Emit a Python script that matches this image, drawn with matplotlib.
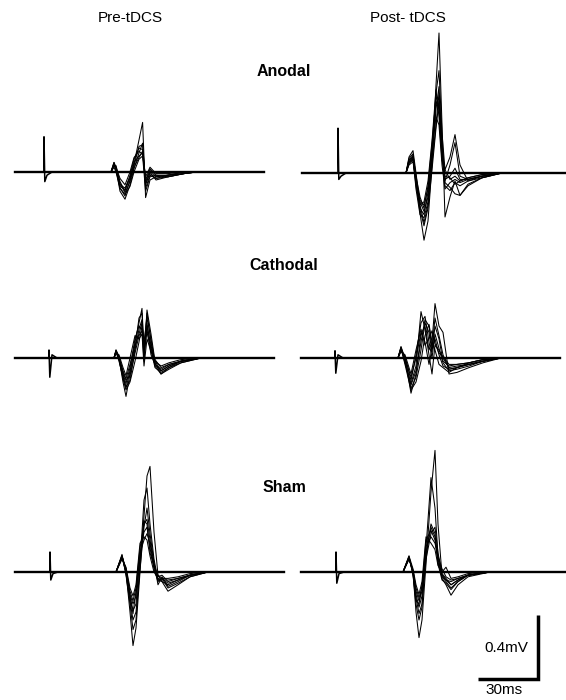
import matplotlib
matplotlib.use("Agg")
import matplotlib.pyplot as plt

plt.rcParams['font.family'] = ['Liberation Sans', 'DejaVu Sans']

# ---- data (time in ms after the stimulus, amplitude in mV) ----
col_titles = ["Pre-tDCS", "Post- tDCS"]
row_titles = ["Anodal", "Cathodal", "Sham"]

# whole sweep: baseline + stimulus artifact
art_t = [0.0, 0.0, 0.4, 1.5, 4.0]
anodal_pre_sweep = [-14.5, 110.0]
anodal_pre_art = [0.0, 0.22, -0.06, -0.02, 0.0]
anodal_post_sweep = [-18.0, 113.5]
anodal_post_art = [0.0, 0.28, -0.04, -0.02, 0.0]
cathodal_pre_sweep = [-17.0, 112.5]
cathodal_pre_art = [0.0, 0.05, -0.12, 0.02, 0.0]
cathodal_post_sweep = [-17.0, 112.5]
cathodal_post_art = [0.0, 0.045, -0.095, 0.02, 0.0]
sham_pre_sweep = [-17.5, 117.0]
sham_pre_art = [0.0, 0.125, -0.05, -0.01, 0.0]
sham_post_sweep = [-17.5, 115.0]
sham_post_art = [0.0, 0.125, -0.07, -0.01, 0.0]

# MEP responses, one list per sweep
anodal_pre_t = [33.5, 35.0, 36.0, 38.0, 40.5, 43.0, 45.0, 47.5, 49.3, 50.8, 53.0, 56.0, 62.0, 70.0, 76.0]
anodal_pre_mep = [
    [0, 0.06, 0.03, -0.10, -0.15, -0.05, 0.05, 0.20, 0.31, -0.16, -0.05, -0.03, -0.02, -0.01, 0],
    [0, 0.05, 0.02, -0.12, -0.17, -0.08, 0.02, 0.12, 0.18, -0.10, -0.02, -0.04, -0.03, -0.01, 0],
    [0, 0.04, 0.04, -0.06, -0.12, -0.02, 0.08, 0.15, 0.14, -0.05, 0.02, -0.02, -0.02, 0, 0],
    [0, 0.06, 0.01, -0.08, -0.10, -0.03, 0.06, 0.10, 0.12, -0.08, 0.00, -0.05, -0.03, -0.01, 0],
    [0, 0.03, 0.00, -0.10, -0.14, -0.09, 0.00, 0.08, 0.10, -0.12, -0.03, -0.02, -0.03, -0.01, 0],
    [0, 0.05, 0.03, -0.04, -0.08, 0.00, 0.09, 0.13, 0.11, -0.03, 0.03, -0.01, -0.01, 0, 0],
    [0, 0.04, 0.02, -0.09, -0.11, -0.04, 0.04, 0.16, 0.17, -0.06, 0.01, -0.03, -0.02, -0.01, 0],
    [0, 0.05, 0.02, -0.07, -0.13, -0.06, 0.03, 0.09, 0.13, -0.07, -0.01, -0.04, -0.02, 0, 0],
]

anodal_post_t = [34.0, 35.5, 37.5, 39.0, 41.0, 43.0, 45.0, 47.0, 49.0, 50.5, 52.0, 53.5, 56.0, 58.5, 61.0, 65.0, 72.0, 82.0]
anodal_post_mep = [
    [0, 0.08, 0.10, -0.05, -0.25, -0.42, -0.30, 0.05, 0.55, 0.875, 0.30, -0.275, -0.15, -0.05, -0.14, -0.08, -0.03, 0],
    [0, 0.10, 0.14, 0.00, -0.20, -0.31, -0.20, 0.10, 0.50, 0.64, 0.25, 0.02, 0.10, 0.24, 0.05, -0.05, -0.03, 0],
    [0, 0.06, 0.08, -0.04, -0.18, -0.24, -0.15, 0.08, 0.40, 0.54, 0.15, -0.05, 0.05, 0.19, -0.02, -0.04, -0.02, 0],
    [0, 0.07, 0.09, -0.08, -0.22, -0.26, -0.12, 0.12, 0.45, 0.40, 0.10, -0.08, -0.11, -0.06, -0.08, -0.05, -0.02, 0],
    [0, 0.05, 0.07, -0.06, -0.17, -0.20, -0.10, 0.15, 0.35, 0.30, 0.05, -0.10, -0.06, -0.04, -0.06, -0.04, -0.02, 0],
    [0, 0.08, 0.11, -0.02, -0.15, -0.22, -0.08, 0.18, 0.48, 0.42, 0.12, -0.02, -0.03, -0.07, -0.05, -0.03, -0.01, 0],
    [0, 0.06, 0.09, -0.10, -0.26, -0.28, -0.18, 0.06, 0.30, 0.50, 0.20, -0.06, -0.09, -0.13, -0.14, -0.07, -0.03, 0],
    [0, 0.09, 0.12, -0.03, -0.20, -0.18, -0.05, 0.20, 0.52, 0.35, 0.08, 0.02, -0.04, -0.02, -0.05, -0.03, -0.01, 0],
    [0, 0.07, 0.10, -0.05, -0.23, -0.33, -0.22, 0.02, 0.28, 0.45, 0.18, -0.04, -0.02, 0.03, -0.04, -0.04, -0.02, 0],
]

cathodal_pre_t = [32.5, 33.5, 35.0, 37.0, 38.5, 40.5, 43.0, 45.0, 46.5, 47.5, 49.0, 51.0, 53.0, 56.0, 60.0, 66.0, 76.0]
cathodal_pre_mep = [
    [0, 0.045, 0.00, -0.15, -0.24, -0.10, 0.10, 0.22, 0.31, 0.05, 0.28, 0.10, -0.05, -0.10, -0.06, -0.03, 0],
    [0, 0.04, -0.02, -0.12, -0.18, -0.14, 0.05, 0.18, 0.24, 0.00, 0.30, 0.15, -0.02, -0.08, -0.05, -0.02, 0],
    [0, 0.03, 0.01, -0.10, -0.16, -0.06, 0.12, 0.20, 0.18, -0.02, 0.22, 0.05, -0.06, -0.09, -0.06, -0.02, 0],
    [0, 0.05, 0.00, -0.08, -0.13, -0.04, 0.08, 0.15, 0.22, 0.08, 0.18, 0.02, -0.04, -0.07, -0.04, -0.02, 0],
    [0, 0.04, -0.01, -0.13, -0.20, -0.15, -0.02, 0.10, 0.20, 0.10, 0.25, 0.12, -0.03, -0.10, -0.07, -0.03, 0],
    [0, 0.03, 0.02, -0.06, -0.11, 0.00, 0.14, 0.12, 0.15, -0.05, 0.12, 0.04, -0.02, -0.05, -0.03, -0.01, 0],
    [0, 0.04, 0.00, -0.11, -0.19, -0.08, 0.06, 0.25, 0.28, 0.02, 0.20, 0.08, -0.04, -0.08, -0.05, -0.02, 0],
    [0, 0.05, 0.01, -0.09, -0.14, -0.11, 0.03, 0.14, 0.17, 0.06, 0.16, 0.06, -0.01, -0.06, -0.04, -0.02, 0],
]

cathodal_post_t = [31.5, 33.0, 35.0, 38.0, 40.5, 43.0, 45.0, 47.0, 48.5, 50.0, 52.0, 54.0, 57.0, 61.0, 67.0, 74.0, 83.0]
cathodal_post_mep = [
    [0, 0.07, 0.00, -0.22, -0.10, 0.15, 0.20, 0.05, 0.10, 0.34, 0.20, 0.16, -0.10, -0.09, -0.06, -0.03, 0],
    [0, 0.06, -0.03, -0.16, -0.05, 0.29, 0.18, 0.02, -0.10, 0.08, 0.05, 0.00, -0.06, -0.05, -0.04, -0.02, 0],
    [0, 0.05, 0.01, -0.14, 0.02, 0.22, 0.26, 0.10, 0.00, 0.15, 0.06, -0.03, -0.08, -0.07, -0.05, -0.02, 0],
    [0, 0.07, -0.02, -0.19, -0.12, 0.05, 0.22, 0.16, 0.04, 0.20, 0.12, -0.02, -0.05, -0.04, -0.03, -0.01, 0],
    [0, 0.05, 0.00, -0.12, 0.00, 0.16, 0.10, -0.04, 0.06, 0.12, 0.02, -0.05, -0.07, -0.06, -0.04, -0.02, 0],
    [0, 0.06, -0.04, -0.20, -0.15, -0.02, 0.14, 0.21, 0.10, 0.05, -0.04, -0.06, -0.09, -0.06, -0.03, -0.01, 0],
    [0, 0.04, 0.02, -0.10, 0.05, 0.18, 0.08, 0.12, 0.17, 0.09, 0.03, 0.01, -0.04, -0.04, -0.03, -0.01, 0],
    [0, 0.06, -0.01, -0.17, -0.08, 0.10, 0.24, 0.20, 0.06, 0.25, 0.14, 0.02, -0.07, -0.06, -0.04, -0.02, 0],
]

sham_pre_t = [33.0, 36.0, 38.0, 40.0, 41.5, 43.0, 45.0, 47.0, 48.5, 50.0, 52.0, 54.0, 56.0, 59.0, 64.0, 70.0, 79.0]
sham_pre_mep = [
    [0, 0.10, 0.00, -0.25, -0.46, -0.35, 0.00, 0.35, 0.60, 0.66, 0.25, -0.02, -0.06, -0.12, -0.08, -0.03, 0],
    [0, 0.11, -0.02, -0.20, -0.36, -0.30, 0.05, 0.45, 0.525, 0.30, 0.08, -0.05, -0.04, -0.10, -0.07, -0.03, 0],
    [0, 0.09, 0.02, -0.12, -0.18, -0.10, 0.15, 0.30, 0.33, 0.20, 0.05, -0.03, -0.02, -0.06, -0.04, -0.02, 0],
    [0, 0.10, 0.01, -0.15, -0.24, -0.20, 0.10, 0.25, 0.28, 0.15, 0.02, -0.06, -0.04, -0.07, -0.05, -0.02, 0],
    [0, 0.08, 0.03, -0.10, -0.15, -0.08, 0.18, 0.22, 0.20, 0.10, 0.00, -0.04, -0.05, -0.05, -0.04, -0.02, 0],
    [0, 0.10, -0.01, -0.18, -0.30, -0.25, 0.02, 0.28, 0.40, 0.24, 0.06, -0.08, -0.03, -0.09, -0.06, -0.02, 0],
    [0, 0.09, 0.00, -0.14, -0.20, -0.15, 0.12, 0.20, 0.24, 0.18, 0.03, -0.02, -0.04, -0.04, -0.03, -0.01, 0],
    [0, 0.10, 0.02, -0.16, -0.26, -0.12, 0.08, 0.32, 0.30, 0.12, 0.04, -0.05, -0.06, -0.08, -0.05, -0.02, 0],
]

sham_post_t = [33.5, 36.5, 38.5, 40.0, 41.5, 43.0, 45.0, 47.5, 49.5, 51.0, 53.0, 55.0, 57.5, 61.0, 66.0, 77.0]
sham_post_mep = [
    [0, 0.09, 0.00, -0.25, -0.41, -0.30, 0.05, 0.50, 0.76, 0.30, -0.02, -0.05, -0.08, -0.05, -0.02, 0],
    [0, 0.10, -0.02, -0.20, -0.30, -0.22, 0.15, 0.59, 0.40, 0.10, -0.04, -0.08, -0.145, -0.08, -0.03, 0],
    [0, 0.08, 0.01, -0.10, -0.16, -0.10, 0.20, 0.26, 0.20, 0.08, -0.02, -0.05, -0.06, -0.04, -0.02, 0],
    [0, 0.09, -0.01, -0.14, -0.22, -0.15, 0.12, 0.30, 0.24, 0.06, -0.03, -0.06, -0.10, -0.06, -0.02, 0],
    [0, 0.10, 0.02, -0.08, -0.14, -0.06, 0.22, 0.18, 0.14, 0.04, 0.00, 0.03, -0.04, -0.03, -0.01, 0],
    [0, 0.09, 0.00, -0.16, -0.26, -0.20, 0.08, 0.24, 0.28, 0.12, -0.01, -0.04, -0.08, -0.05, -0.02, 0],
    [0, 0.08, 0.01, -0.12, -0.18, -0.12, 0.16, 0.22, 0.18, 0.10, 0.02, -0.03, -0.05, -0.04, -0.02, 0],
    [0, 0.09, -0.01, -0.18, -0.20, -0.08, 0.10, 0.28, 0.22, 0.05, -0.05, -0.07, -0.11, -0.06, -0.02, 0],
]

scale_ms = 30
scale_mv = 0.4

# ---- layout (pixels) ----
W, H = 566, 700
PX_PER_MS = 2.0
PX_PER_MV = 160.0
T_LO, T_HI = -20, 120
V_LO, V_HI = -0.8, 1.0

fig = plt.figure(figsize=(W / 100, H / 100), dpi=100)


def panel_axes(stim_px, base_px):
    left = stim_px + T_LO * PX_PER_MS
    top = base_px - V_HI * PX_PER_MV
    w = (T_HI - T_LO) * PX_PER_MS
    h = (V_HI - V_LO) * PX_PER_MV
    ax = fig.add_axes([left / W, 1 - (top + h) / H, w / W, h / H])
    ax.set_xlim(T_LO, T_HI)
    ax.set_ylim(V_LO, V_HI)
    ax.axis('off')
    ax.patch.set_alpha(0)
    return ax


def draw_panel(ax, sweep, art, t, meps):
    # baseline is thick because all sweeps overlap there
    ax.plot(sweep, [0, 0], color='black', lw=1.7)
    ax.plot(art_t, art, color='black', lw=1.1)
    for v in meps:
        ax.plot(t, v, color='black', lw=0.75)


panels = [
    (44, 172, anodal_pre_sweep, anodal_pre_art, anodal_pre_t, anodal_pre_mep),
    (338, 173, anodal_post_sweep, anodal_post_art, anodal_post_t, anodal_post_mep),
    (49, 358, cathodal_pre_sweep, cathodal_pre_art, cathodal_pre_t, cathodal_pre_mep),
    (335, 358, cathodal_post_sweep, cathodal_post_art, cathodal_post_t, cathodal_post_mep),
    (50, 572, sham_pre_sweep, sham_pre_art, sham_pre_t, sham_pre_mep),
    (336, 572, sham_post_sweep, sham_post_art, sham_post_t, sham_post_mep),
]

axes = []
for stim_px, base_px, sweep, art, t, meps in panels:
    ax = panel_axes(stim_px, base_px)
    draw_panel(ax, sweep, art, t, meps)
    axes.append(ax)

# scale bar in the last panel's units
sb = axes[-1]
x1, y0 = 101, -0.67
sb.plot([x1 - scale_ms, x1, x1], [y0, y0, y0 + scale_mv], color='black',
        lw=2.5, clip_on=False, solid_joinstyle='miter', solid_capstyle='butt')
sb.text(85, -0.475, f"{scale_mv}mV", ha='center', va='center', fontsize=11)
sb.text(84, -0.74, f"{scale_ms}ms", ha='center', va='center', fontsize=11)

# titles
fig.text(130 / W, 1 - 18 / H, col_titles[0], ha='center', va='center', fontsize=11)
fig.text(408 / W, 1 - 18 / H, col_titles[1], ha='center', va='center', fontsize=11)
for name, y in zip(row_titles, [72, 265, 488]):
    fig.text(284 / W, 1 - y / H, name, ha='center', va='center',
             fontsize=11.5, fontweight='bold')

fig.savefig('out.png', dpi=100)
